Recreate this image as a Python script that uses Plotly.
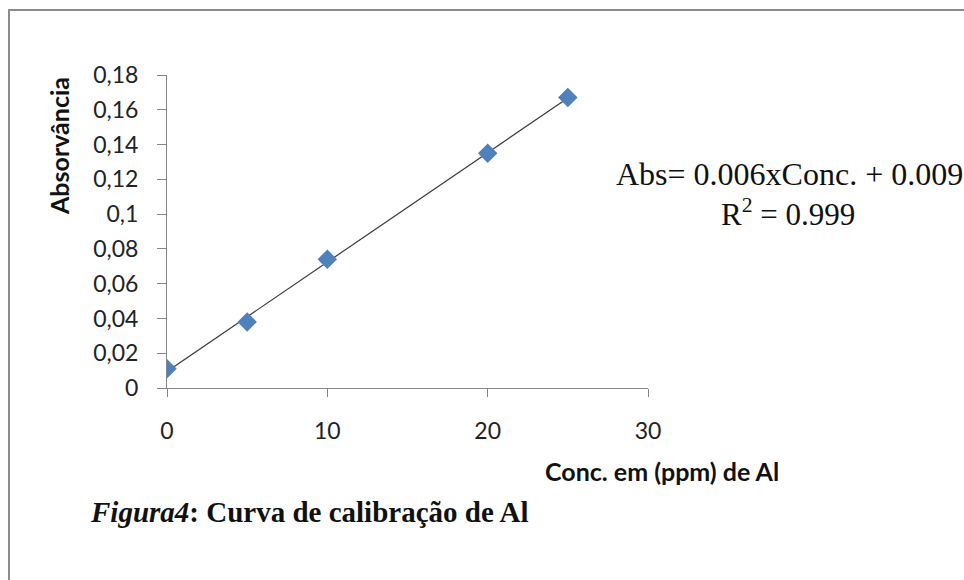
import numpy as np
import plotly.graph_objects as go

# Data
conc = [0, 5, 10, 20, 25]
absorb = [0.011, 0.038, 0.074, 0.135, 0.167]
x_ticks = [0, 10, 20, 30]
y_ticks = [0, 0.02, 0.04, 0.06, 0.08, 0.1, 0.12, 0.14, 0.16, 0.18]
y_tick_labels = ["0", "0,02", "0,04", "0,06", "0,08", "0,1", "0,12", "0,14", "0,16", "0,18"]
x_title = "Conc. em (ppm) de Al"
y_title = "Absorvância"
eq_text = "Abs= 0.006xConc. + 0.009"
r2_text = "R<sup>2</sup> = 0.999"
caption = "<b><i>Figura4</i>: Curva de calibração de Al</b>"

# Layout geometry (pixels)
W, H = 964, 580
L, R, T, B = 167, 316, 75, 192
PW, PH = W - L - R, H - T - B


def px(xp):
    return (xp - L) / PW


def py(yp):
    return (H - B - yp) / PH


# Trendline from linear fit
slope, intercept = np.polyfit(conc, absorb, 1)
tx = [min(conc), max(conc)]
ty = [slope * v + intercept for v in tx]

fig = go.Figure()
fig.add_trace(go.Scatter(x=tx, y=ty, mode="lines",
                         line=dict(color="#3a3a3a", width=1.2),
                         hoverinfo="skip", showlegend=False))
fig.add_trace(go.Scatter(x=conc, y=absorb, mode="markers",
                         marker=dict(symbol="diamond", size=15, color="#4F81BD",
                                     line=dict(width=0)),
                         showlegend=False))

axis_color = "#868686"
fig.update_xaxes(range=[0, 30], tickvals=x_ticks, showgrid=False, zeroline=False,
                 showline=True, linecolor=axis_color, linewidth=1,
                 ticks="outside", ticklen=8, tickcolor=axis_color,
                 ticklabelstandoff=14,
                 tickfont=dict(family="Lato", size=23, color="#222"))
fig.update_yaxes(range=[0, 0.18], tickvals=y_ticks, ticktext=y_tick_labels,
                 showgrid=False, zeroline=False,
                 showline=True, linecolor=axis_color, linewidth=1,
                 ticks="outside", ticklen=9, tickcolor=axis_color,
                 ticklabelstandoff=14,
                 tickfont=dict(family="Lato", size=23, color="#222"))

annotations = [
    dict(x=px(662), y=py(471), text="<b>" + x_title + "</b>",
         font=dict(family="Lato", size=25, color="#111")),
    dict(x=px(59), y=py(146), text="<b>" + y_title + "</b>", textangle=-90,
         font=dict(family="Lato", size=25, color="#111")),
    dict(x=px(789), y=py(174), text=eq_text,
         font=dict(family="Liberation Serif", size=32, color="#111")),
    dict(x=px(788), y=py(213), text=r2_text,
         font=dict(family="Liberation Serif", size=31, color="#111")),
    dict(x=px(88), y=py(512), text=caption, xanchor="left",
         font=dict(family="Liberation Serif", size=29, color="#111")),
]
for a in annotations:
    a.setdefault("xanchor", "center")
    a.update(xref="paper", yref="paper", yanchor="middle", showarrow=False)

fig.update_layout(
    width=W, height=H,
    margin=dict(l=L, r=R, t=T, b=B),
    paper_bgcolor="white", plot_bgcolor="white",
    annotations=annotations,
    shapes=[dict(type="rect", xref="paper", yref="paper",
                 x0=px(9), x1=px(W + 20), y0=py(H + 20), y1=py(10),
                 line=dict(color="#8c8c8c", width=2), layer="below")],
)

fig.write_html("out.html")
